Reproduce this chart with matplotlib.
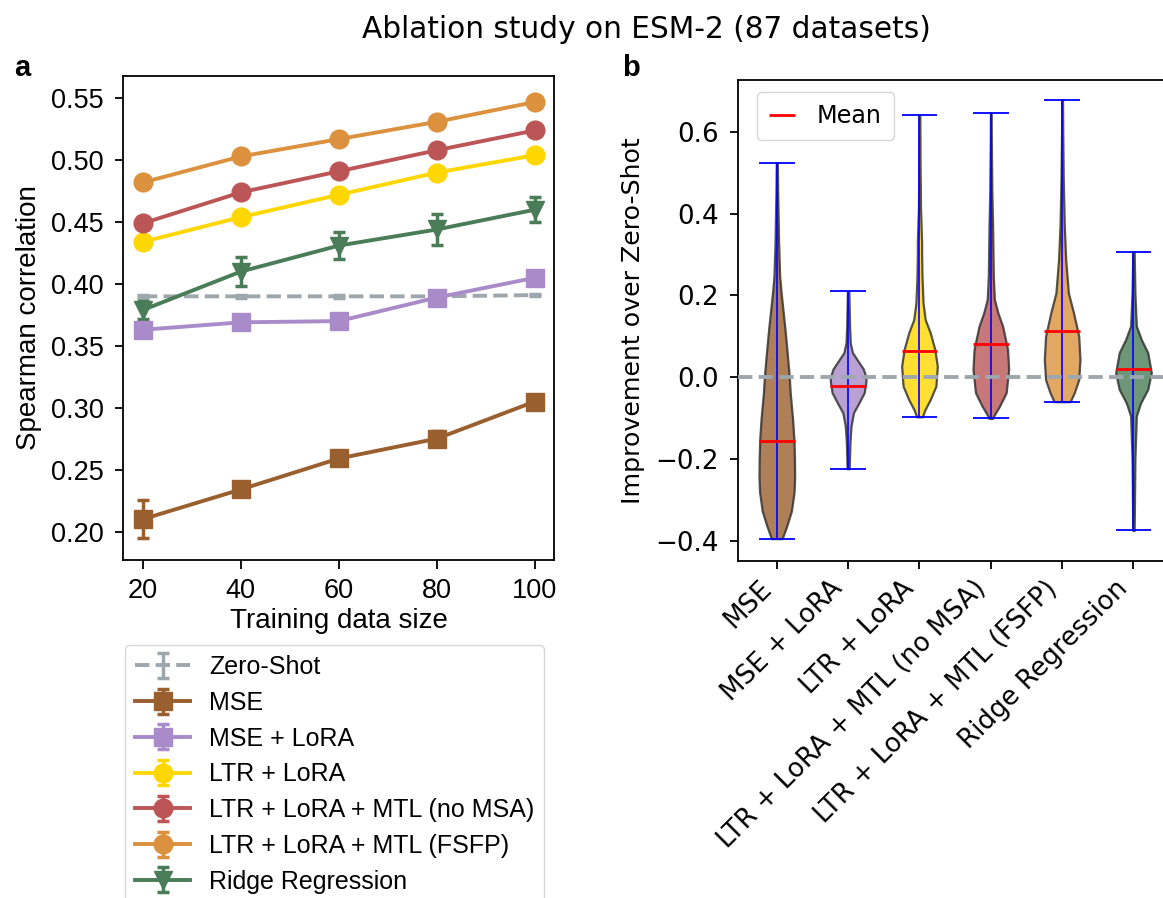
import numpy as np
import matplotlib
matplotlib.use("Agg")
import matplotlib.pyplot as plt

# ---- panel a data ----
sizes = [20, 40, 60, 80, 100]
methods = ["Zero-Shot", "MSE", "MSE + LoRA", "LTR + LoRA",
           "LTR + LoRA + MTL (no MSA)", "LTR + LoRA + MTL (FSFP)", "Ridge Regression"]
zero_shot = [0.390, 0.390, 0.390, 0.390, 0.391]
zero_shot_err = [0.001, 0.001, 0.001, 0.001, 0.001]
mse = [0.210, 0.234, 0.259, 0.275, 0.305]
mse_err = [0.0155, 0.004, 0.005, 0.006, 0.004]
mse_lora = [0.363, 0.369, 0.370, 0.389, 0.405]
mse_lora_err = [0.004, 0.005, 0.005, 0.005, 0.004]
ltr_lora = [0.434, 0.454, 0.472, 0.490, 0.504]
ltr_lora_err = [0.003, 0.003, 0.003, 0.003, 0.003]
mtl_no_msa = [0.449, 0.474, 0.491, 0.508, 0.524]
mtl_no_msa_err = [0.003, 0.004, 0.004, 0.003, 0.003]
mtl_fsfp = [0.482, 0.503, 0.517, 0.531, 0.547]
mtl_fsfp_err = [0.002, 0.002, 0.002, 0.002, 0.002]
ridge = [0.379, 0.410, 0.431, 0.444, 0.460]
ridge_err = [0.007, 0.012, 0.011, 0.0125, 0.010]

colors = ["#9DA7AE", "#9A5F2E", "#A88BC8", "#FFD700", "#BC5656", "#DB913D", "#4A7D57"]
markers = [None, "s", "s", "o", "o", "o", "v"]

# ---- panel b data: violin outlines ----
violin_labels = ["MSE", "MSE + LoRA", "LTR + LoRA", "LTR + LoRA + MTL (no MSA)",
                 "LTR + LoRA + MTL (FSFP)", "Ridge Regression"]
v_mins = [-0.395, -0.224, -0.097, -0.101, -0.060, -0.375]
v_maxs = [0.525, 0.210, 0.642, 0.647, 0.678, 0.306]
v_means = [-0.157, -0.022, 0.064, 0.082, 0.113, 0.019]

mse_y = [-0.395, -0.365, -0.327, -0.28, -0.243, -0.2, -0.153, -0.1, -0.038, 0.0,
         0.05, 0.084, 0.125, 0.207, 0.247, 0.33, 0.45, 0.525]
mse_w = [0.30, 0.55, 0.82, 0.97, 1.0, 0.99, 0.96, 0.88, 0.75, 0.70,
         0.60, 0.53, 0.44, 0.24, 0.16, 0.10, 0.05, 0.03]
mse_lora_y = [-0.224, -0.16, -0.12, -0.087, -0.063, -0.038, -0.01, 0.0, 0.02,
              0.043, 0.06, 0.084, 0.125, 0.21]
mse_lora_w = [0.06, 0.10, 0.16, 0.30, 0.60, 0.90, 1.0, 1.0, 0.85,
              0.50, 0.24, 0.12, 0.08, 0.04]
ltr_lora_y = [-0.097, -0.08, -0.055, -0.022, 0.027, 0.068, 0.109, 0.141, 0.182,
              0.247, 0.30, 0.33, 0.41, 0.533, 0.642]
ltr_lora_w = [0.16, 0.30, 0.60, 0.92, 1.0, 0.86, 0.60, 0.32, 0.20,
              0.14, 0.12, 0.12, 0.06, 0.03, 0.02]
no_msa_y = [-0.101, -0.095, -0.07, -0.038, 0.019, 0.068, 0.125, 0.157, 0.19,
            0.247, 0.37, 0.45, 0.574, 0.647]
no_msa_w = [0.10, 0.16, 0.50, 0.86, 1.0, 0.94, 0.66, 0.40, 0.20,
            0.14, 0.10, 0.06, 0.03, 0.02]
fsfp_y = [-0.060, -0.038, -0.006, 0.043, 0.10, 0.157, 0.206, 0.288, 0.37,
          0.49, 0.615, 0.678]
fsfp_w = [0.45, 0.68, 0.93, 1.0, 0.93, 0.64, 0.35, 0.20, 0.12,
          0.06, 0.03, 0.02]
ridge_y = [-0.375, -0.2, -0.095, -0.063, -0.03, 0.011, 0.06, 0.092, 0.125,
           0.206, 0.306]
ridge_w = [0.04, 0.08, 0.16, 0.40, 0.80, 1.0, 0.80, 0.44, 0.16,
           0.08, 0.04]

violin_y = [mse_y, mse_lora_y, ltr_lora_y, no_msa_y, fsfp_y, ridge_y]
violin_w = [mse_w, mse_lora_w, ltr_lora_w, no_msa_w, fsfp_w, ridge_w]

W, H = 1163, 898
fig = plt.figure(figsize=(W / 100, H / 100), dpi=100)

arial = "Liberation Sans"

# ---------------- panel a ----------------
ax1 = fig.add_axes([123.3 / W, 1 - 560 / H, (554.3 - 123.3) / W, (560 - 76) / H])
series = [zero_shot, mse, mse_lora, ltr_lora, mtl_no_msa, mtl_fsfp, ridge]
errs = [zero_shot_err, mse_err, mse_lora_err, ltr_lora_err, mtl_no_msa_err,
        mtl_fsfp_err, ridge_err]
for i, (vals, err) in enumerate(zip(series, errs)):
    if i == 0:
        ax1.errorbar(sizes, vals, yerr=err, color=colors[i], ls="--", lw=2.8,
                     capsize=4, elinewidth=2.5, capthick=2.5, label=methods[i])
    else:
        ax1.errorbar(sizes, vals, yerr=err, color=colors[i], marker=markers[i],
                     ms=13.5, lw=2.8, capsize=4, elinewidth=2.5, capthick=2.5,
                     label=methods[i])

ax1.set_xlim(16, 104)
ax1.set_ylim(0.177, 0.568)
ax1.set_xticks(sizes)
ax1.set_yticks([0.20, 0.25, 0.30, 0.35, 0.40, 0.45, 0.50, 0.55])
ax1.set_yticklabels([f"{t:.2f}" for t in ax1.get_yticks()])
for lab in ax1.get_xticklabels() + ax1.get_yticklabels():
    lab.set_family(arial)
    lab.set_fontsize(19.5)
ax1.tick_params(axis="x", length=6.5, width=1.3, pad=6.5)
ax1.tick_params(axis="y", length=5.8, width=1.3, pad=8.5)
for s in ax1.spines.values():
    s.set_linewidth(1.3)
ax1.set_xlabel("Training data size", fontsize=20, family=arial, labelpad=3)
ax1.set_ylabel("Spearman correlation", fontsize=20, family=arial, labelpad=6)

leg = ax1.legend(loc="upper left", bbox_to_anchor=(125 / W, 1 - 645 / H),
                 bbox_transform=fig.transFigure, borderaxespad=0,
                 prop={"family": arial, "size": 18}, handlelength=2.2,
                 labelspacing=0.47, handletextpad=0.75)

fig.text(14 / W, 1 - 68 / H, "a", fontsize=21, fontweight="bold", family=arial,
         ha="left", va="center")

# ---------------- panel b ----------------
ax2 = fig.add_axes([738.3 / W, 1 - 560.7 / H, (1172 - 738.3) / W, (560.7 - 80) / H])
positions = np.arange(1, len(violin_labels) + 1)
vpstats = []
for i in range(len(violin_labels)):
    vpstats.append({"coords": np.array(violin_y[i]), "vals": np.array(violin_w[i]),
                    "mean": v_means[i], "median": v_means[i],
                    "min": v_mins[i], "max": v_maxs[i]})
parts = ax2.violin(vpstats, positions=positions, widths=0.5, showmeans=False,
                   showextrema=False, showmedians=False)
for i, body in enumerate(parts["bodies"]):
    body.set_facecolor(colors[i + 1])
    body.set_edgecolor("#2b2b2b")
    body.set_linewidth(1.6)
    body.set_alpha(0.8)

ax2.vlines(positions, v_mins, v_maxs, color="blue", lw=1.2, zorder=3)
ax2.hlines(v_mins, positions - 0.25, positions + 0.25, color="blue", lw=1.3, zorder=3)
ax2.hlines(v_maxs, positions - 0.25, positions + 0.25, color="blue", lw=1.3, zorder=3)
ax2.hlines(v_means, positions - 0.25, positions + 0.25, color="red", lw=2,
           zorder=4, label="Mean")
ax2.axhline(0, color=colors[0], ls="--", lw=2.8, zorder=5)

ax2.set_xlim(0.46, 6.54)
ax2.set_ylim(-0.449, 0.727)
ax2.set_yticks([-0.4, -0.2, 0.0, 0.2, 0.4, 0.6])
ax2.set_xticks(positions)
ax2.set_xticklabels(violin_labels, rotation=45, ha="right", fontsize=18.8)
ax2.tick_params(axis="y", labelsize=18.8, pad=8)
ax2.tick_params(axis="x", pad=5)
ax2.tick_params(length=5.8, width=1.3)
for s in ax2.spines.values():
    s.set_linewidth(1.3)
ax2.set_ylabel("Improvement over Zero-Shot", fontsize=18.2, labelpad=8)
ax2.legend(loc="upper left", bbox_to_anchor=(757 / W, 1 - 92 / H),
           bbox_transform=fig.transFigure, borderaxespad=0, fontsize=17.2,
           handlelength=1.1, handletextpad=0.9, borderpad=0.5)

fig.text(622 / W, 1 - 68 / H, "b", fontsize=21, fontweight="bold", family=arial,
         ha="left", va="center")

fig.text(646 / W, 1 - 29 / H, "Ablation study on ESM-2 (87 datasets)", fontsize=21.3,
         ha="center", va="center")

fig.savefig("out.png", dpi=100)
